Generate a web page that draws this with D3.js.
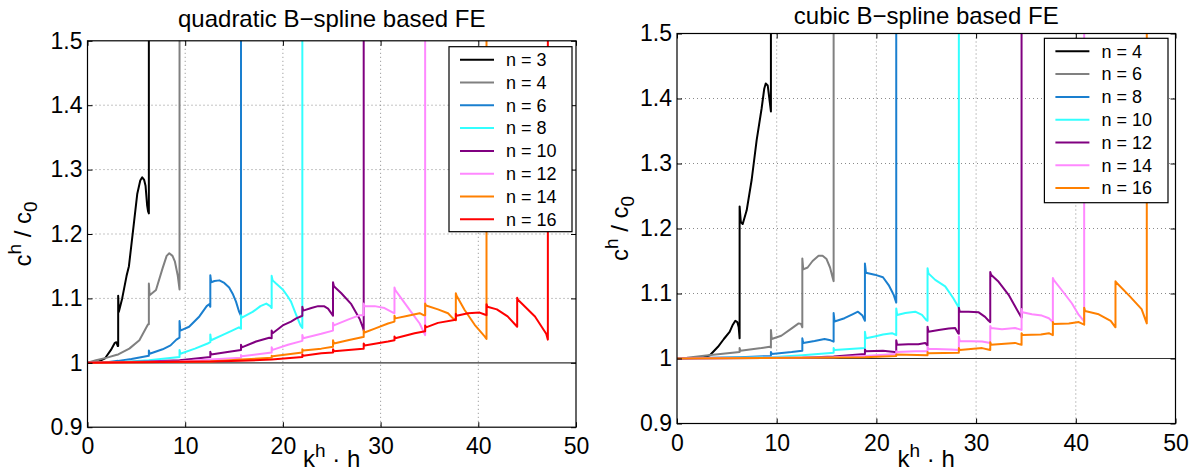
<!DOCTYPE html>
<html lang="en">
<head>
<meta charset="utf-8">
<script src="https://d3js.org/d3.v7.min.js"></script>
<style>
  body { margin: 0; background: #fff; }
  svg { display: block; font-family: "Liberation Sans", Arial, sans-serif; }
</style>
</head>
<body>
<script>
// ---- data (x = k^h*h, y = c^h/c0) ----
var xTicks = [0, 10, 20, 30, 40, 50];
var yTicks = [0.9, 1, 1.1, 1.2, 1.3, 1.4, 1.5];

var quadNames = ["n = 3", "n = 4", "n = 6", "n = 8", "n = 10", "n = 12", "n = 14", "n = 16"];
var cubicNames = ["n = 4", "n = 6", "n = 8", "n = 10", "n = 12", "n = 14", "n = 16"];

var q3 = [[0,1],[1,1.001],[1.8,1.007],[2.4,1.02],[2.8,1.031],[2.95,1.032],[3.1,1.026],[3.14,1.026],[3.14,1.104],[3.2,1.079],[3.55,1.1],[4.0,1.135],[4.24,1.15],[4.75,1.217],[5.09,1.262],[5.4,1.283],[5.6,1.288],[5.8,1.284],[5.94,1.275],[6.1,1.245],[6.2,1.235],[6.28,1.232],[6.28,1.6]];
var q4 = [[0,1],[0.87,1.004],[2,1.008],[2.92,1.012],[3.14,1.013],[4.28,1.022],[5.31,1.035],[5.99,1.054],[6.2,1.06],[6.28,1.06],[6.28,1.123],[6.36,1.105],[7.01,1.113],[7.69,1.147],[8.1,1.166],[8.37,1.17],[8.7,1.166],[8.95,1.157],[9.23,1.136],[9.42,1.114],[9.42,1.6]];
var q6 = [[0,1],[2,1.001],[3.14,1.003],[4.5,1.006],[6.28,1.011],[6.28,1.019],[6.36,1.014],[7.69,1.021],[8.5,1.027],[9.1,1.036],[9.42,1.039],[9.42,1.065],[9.5,1.05],[10.4,1.056],[11.45,1.072],[12.2,1.088],[12.45,1.091],[12.57,1.087],[12.57,1.136],[12.66,1.125],[13.0,1.127],[13.5,1.128],[14.0,1.124],[14.5,1.117],[14.9,1.106],[15.2,1.095],[15.5,1.08],[15.71,1.073],[15.71,1.6]];
var q8 = [[0,1],[3.14,1.001],[6.28,1.004],[9.42,1.009],[9.42,1.02],[9.5,1.014],[11,1.022],[12.3,1.03],[12.57,1.032],[12.57,1.044],[12.65,1.035],[13.8,1.043],[14.8,1.05],[15.5,1.055],[15.71,1.053],[15.71,1.074],[15.8,1.07],[16.9,1.079],[17.7,1.088],[18.3,1.092],[18.7,1.088],[18.85,1.085],[18.85,1.135],[18.95,1.128],[19.3,1.123],[19.98,1.114],[20.5,1.103],[20.83,1.095],[21.37,1.074],[21.8,1.058],[21.99,1.054],[21.99,1.6]];
var q10 = [[0,1],[6.28,1.002],[9.42,1.004],[12.57,1.009],[12.57,1.017],[12.65,1.013],[14.5,1.017],[15.71,1.02],[15.71,1.028],[15.8,1.024],[17.25,1.033],[18.6,1.039],[18.85,1.038],[18.85,1.05],[18.95,1.046],[19.98,1.058],[20.83,1.064],[21.37,1.069],[21.99,1.073],[21.99,1.087],[22.08,1.081],[22.91,1.085],[23.6,1.088],[24.2,1.088],[24.62,1.084],[25.0,1.076],[25.13,1.073],[25.13,1.125],[25.22,1.119],[25.98,1.108],[27.0,1.091],[27.86,1.068],[28.2,1.054],[28.27,1.05],[28.27,1.6]];
var q12 = [[0,1],[9.42,1.002],[12.57,1.005],[15.71,1.008],[15.71,1.012],[15.8,1.01],[18.85,1.016],[18.85,1.024],[18.95,1.02],[20.52,1.028],[21.99,1.034],[21.99,1.043],[22.08,1.038],[23.93,1.045],[25.13,1.05],[25.13,1.062],[25.22,1.058],[26.66,1.067],[27.86,1.074],[28.27,1.074],[28.27,1.092],[28.36,1.088],[29.4,1.088],[30.4,1.085],[31.27,1.078],[31.42,1.077],[31.42,1.117],[31.5,1.113],[32.12,1.1],[33.12,1.079],[34.0,1.061],[34.34,1.05],[34.56,1.043],[34.56,1.6]];
var q14 = [[0,1],[12.57,1.002],[15.71,1.005],[18.85,1.008],[18.85,1.011],[18.95,1.01],[21.99,1.016],[21.99,1.021],[22.08,1.019],[23.93,1.022],[25.13,1.025],[25.13,1.035],[25.22,1.03],[26.66,1.035],[28.2,1.04],[28.27,1.04],[28.27,1.05],[28.36,1.047],[29.4,1.053],[30.76,1.061],[31.42,1.064],[31.42,1.073],[31.5,1.069],[32.8,1.073],[34.0,1.077],[34.4,1.074],[34.56,1.074],[34.56,1.092],[34.65,1.089],[35.87,1.083],[36.9,1.077],[37.4,1.069],[37.7,1.066],[37.7,1.108],[37.78,1.104],[38.6,1.082],[39.63,1.059],[40.65,1.041],[40.84,1.037],[40.84,1.6]];
var q16 = [[0,1],[12.57,1.002],[15.71,1.003],[18.85,1.005],[21.99,1.009],[21.99,1.013],[22.08,1.011],[23.93,1.015],[25.13,1.016],[25.13,1.021],[25.22,1.018],[28.2,1.022],[28.27,1.022],[28.27,1.03],[28.36,1.027],[30.76,1.033],[31.42,1.035],[31.42,1.041],[31.5,1.038],[33.48,1.046],[34.56,1.049],[34.56,1.058],[34.65,1.055],[35.87,1.062],[37.7,1.067],[37.7,1.076],[37.78,1.073],[38.95,1.077],[40.14,1.078],[40.65,1.075],[40.84,1.074],[40.84,1.091],[40.93,1.087],[41.9,1.083],[43.0,1.072],[43.98,1.056],[43.98,1.101],[44.06,1.098],[45.8,1.072],[46.95,1.045],[47.12,1.036],[47.12,1.6]];

var c4 = [[0,1],[2.5,1.001],[2.94,1.003],[3.14,1.004],[3.3,1.005],[4.11,1.018],[4.7,1.03],[5.28,1.041],[5.6,1.052],[5.85,1.058],[6.05,1.056],[6.19,1.048],[6.28,1.031],[6.28,1.234],[6.4,1.21],[6.59,1.207],[6.99,1.228],[7.49,1.275],[7.99,1.336],[8.49,1.385],[8.75,1.415],[8.9,1.423],[9.1,1.42],[9.3,1.395],[9.42,1.38],[9.42,1.6]];
var c6 = [[0,1],[1,1.001],[3.14,1.005],[6.28,1.01],[6.28,1.016],[6.36,1.012],[8.46,1.016],[9.29,1.018],[9.42,1.017],[9.42,1.044],[9.5,1.03],[10.46,1.035],[11.47,1.046],[12.2,1.054],[12.45,1.053],[12.57,1.048],[12.57,1.154],[12.66,1.137],[13.1,1.14],[13.6,1.15],[14.2,1.158],[14.6,1.158],[15.0,1.153],[15.35,1.14],[15.6,1.125],[15.71,1.119],[15.71,1.6]];
var c8 = [[0,1],[3.14,1.001],[6.28,1.002],[9.42,1.004],[9.42,1.01],[9.5,1.007],[11.5,1.01],[12.57,1.012],[12.57,1.031],[12.66,1.024],[13.8,1.027],[14.8,1.03],[15.4,1.028],[15.71,1.026],[15.71,1.07],[15.8,1.057],[16.8,1.062],[17.6,1.068],[18.15,1.072],[18.6,1.066],[18.85,1.058],[18.85,1.146],[18.95,1.132],[19.83,1.129],[20.66,1.125],[21.23,1.113],[21.73,1.098],[21.99,1.086],[21.99,1.6]];
var c10 = [[0,1],[6.28,1.001],[9.42,1.002],[12.57,1.005],[15.71,1.009],[15.71,1.016],[15.8,1.013],[18.85,1.016],[18.85,1.041],[18.95,1.031],[19.83,1.034],[20.66,1.037],[21.57,1.039],[21.99,1.036],[21.99,1.077],[22.08,1.067],[22.9,1.07],[23.9,1.072],[24.57,1.067],[25.01,1.059],[25.13,1.058],[25.13,1.139],[25.22,1.131],[25.9,1.121],[26.9,1.111],[27.7,1.093],[28.2,1.08],[28.27,1.077],[28.27,1.6]];
var c12 = [[0,1],[12.57,1.001],[15.71,1.003],[18.85,1.007],[18.85,1.014],[18.95,1.011],[20.66,1.012],[21.83,1.01],[21.99,1.009],[21.99,1.028],[22.08,1.021],[23.2,1.022],[24.2,1.022],[24.9,1.024],[25.13,1.02],[25.13,1.049],[25.22,1.041],[26.25,1.044],[27.25,1.046],[27.9,1.047],[28.2,1.039],[28.27,1.038],[28.27,1.078],[28.36,1.072],[29.25,1.072],[30.26,1.071],[30.9,1.064],[31.26,1.058],[31.42,1.056],[31.42,1.133],[31.5,1.129],[32.26,1.118],[33.26,1.098],[34.1,1.075],[34.43,1.066],[34.56,1.063],[34.56,1.6]];
var c14 = [[0,1],[15.71,1.002],[18.85,1.004],[21.99,1.007],[21.99,1.011],[22.08,1.01],[23.9,1.011],[25.13,1.011],[25.13,1.018],[25.22,1.015],[27.5,1.014],[28.27,1.013],[28.27,1.034],[28.36,1.027],[30.6,1.026],[31.42,1.024],[31.42,1.05],[31.5,1.047],[32.6,1.045],[33.9,1.047],[34.56,1.044],[34.56,1.076],[34.65,1.071],[35.6,1.068],[36.6,1.066],[37.3,1.062],[37.7,1.056],[37.7,1.124],[37.78,1.121],[38.6,1.105],[39.6,1.085],[40.3,1.067],[40.84,1.057],[40.84,1.6]];
var c16 = [[0,1],[18.85,1.002],[21.99,1.004],[21.99,1.006],[25.13,1.005],[25.13,1.01],[25.22,1.008],[28.27,1.009],[28.27,1.016],[28.36,1.013],[30.6,1.016],[31.42,1.013],[31.42,1.025],[31.5,1.021],[33.9,1.024],[34.56,1.021],[34.56,1.039],[34.65,1.036],[36.5,1.037],[37.3,1.039],[37.7,1.036],[37.7,1.056],[37.78,1.053],[39.3,1.054],[40.3,1.056],[40.84,1.052],[40.84,1.078],[40.93,1.073],[42.3,1.068],[43.5,1.058],[43.98,1.048],[43.98,1.119],[44.06,1.117],[45.4,1.096],[46.6,1.076],[47.12,1.054],[47.12,1.6]];

var quadColors = ["#000000", "#808080", "#1a7fcf", "#33ffff", "#800080", "#ff88ff", "#ff8000", "#ff0000"];
var cubicColors = ["#000000", "#808080", "#1a7fcf", "#33ffff", "#800080", "#ff88ff", "#ff8000"];

var svg = d3.select("body").append("svg")
  .attr("width", 1201)
  .attr("height", 472);

svg.append("rect").attr("width", 1201).attr("height", 472).attr("fill", "white");

var panels = [
  { id: "q", left: 87.5, right: 576, top: 40.8, bottom: 427.2, title: "quadratic B\u2212spline based FE", titleY: 27,
    series: [q3, q4, q6, q8, q10, q12, q14, q16], names: quadNames, colors: quadColors,
    legend: { x: 449, y: 46.7, w: 123, h: 185 }, ylabX: 31 },
  { id: "c", left: 677, right: 1175.5, top: 33.5, bottom: 423.5, title: "cubic B\u2212spline based FE", titleY: 24,
    series: [c4, c6, c8, c10, c12, c14, c16], names: cubicNames, colors: cubicColors,
    legend: { x: 1044.4, y: 38.3, w: 123.6, h: 164.4 }, ylabX: 628 }
];

panels.forEach(function (p) {
  var x = d3.scaleLinear().domain([0, 50]).range([p.left, p.right]);
  var y = d3.scaleLinear().domain([0.9, 1.5]).range([p.bottom, p.top]);
  var w = p.right - p.left, h = p.bottom - p.top;

  svg.append("clipPath").attr("id", "clip-" + p.id)
    .append("rect").attr("x", p.left).attr("y", p.top).attr("width", w).attr("height", h);

  // dotted grid
  var grid = svg.append("g").attr("stroke", "#8a8a8a").attr("stroke-width", 1).attr("stroke-dasharray", "1,3");
  grid.selectAll(".gx").data(xTicks.slice(1, -1)).enter().append("line")
    .attr("x1", function (d) { return x(d); }).attr("x2", function (d) { return x(d); })
    .attr("y1", p.top).attr("y2", p.bottom);
  grid.selectAll(".gy").data(yTicks.slice(2, -1)).enter().append("line")
    .attr("y1", function (d) { return y(d); }).attr("y2", function (d) { return y(d); })
    .attr("x1", p.left).attr("x2", p.right);

  // reference line c^h/c0 = 1
  svg.append("line")
    .attr("x1", x(0)).attr("x2", x(50)).attr("y1", y(1)).attr("y2", y(1))
    .attr("stroke", "#333").attr("stroke-width", 1.2);

  // curves
  var line = d3.line().x(function (d) { return x(d[0]); }).y(function (d) { return y(d[1]); });
  var curves = svg.append("g").attr("clip-path", "url(#clip-" + p.id + ")");
  curves.selectAll("path").data(p.series).enter().append("path")
    .attr("d", line)
    .attr("fill", "none")
    .attr("stroke", function (d, i) { return p.colors[i]; })
    .attr("stroke-width", 2)
    .attr("stroke-linejoin", "round");

  // axes, ticks inside like matlab
  var fmt = function (d) { return String(+d.toFixed(1)); };
  var gx = svg.append("g").attr("transform", "translate(0," + p.bottom + ")")
    .call(d3.axisBottom(x).tickValues(xTicks).tickFormat(fmt).tickSizeInner(-5).tickSizeOuter(0).tickPadding(10));
  var gxt = svg.append("g").attr("transform", "translate(0," + p.top + ")")
    .call(d3.axisTop(x).tickValues(xTicks).tickFormat("").tickSizeInner(-5).tickSizeOuter(0));
  var gy = svg.append("g").attr("transform", "translate(" + p.left + ",0)")
    .call(d3.axisLeft(y).tickValues(yTicks).tickFormat(fmt).tickSizeInner(-5).tickSizeOuter(0).tickPadding(5));
  var gyr = svg.append("g").attr("transform", "translate(" + p.right + ",0)")
    .call(d3.axisRight(y).tickValues(yTicks).tickFormat("").tickSizeInner(-5).tickSizeOuter(0));
  [gx, gxt, gy, gyr].forEach(function (g) {
    g.select(".domain").remove();
    g.selectAll("line").attr("stroke", "#000");
    g.selectAll("text").attr("fill", "#000").style("font-size", "23px").attr("font-family", "Liberation Sans, Arial, sans-serif");
  });
  gx.selectAll("text").attr("dy", "0.75em");

  svg.append("rect").attr("x", p.left).attr("y", p.top).attr("width", w).attr("height", h)
    .attr("fill", "none").attr("stroke", "#000").attr("stroke-width", 1.2);

  // title
  svg.append("text").attr("x", (p.left + p.right) / 2).attr("y", p.titleY)
    .attr("text-anchor", "middle").style("font-size", "24px").text(p.title);

  // x label  k^h . h
  var xl = svg.append("text").attr("x", (p.left + p.right) / 2).attr("y", 467)
    .attr("text-anchor", "middle").style("font-size", "24px");
  xl.append("tspan").text("k");
  xl.append("tspan").attr("dy", -10).style("font-size", "19px").text("h");
  xl.append("tspan").attr("dy", 10).text(" \u00b7 h");

  // y label  c^h / c_0
  var yl = svg.append("text")
    .attr("transform", "translate(" + p.ylabX + "," + (p.top + p.bottom) / 2 + ") rotate(-90)")
    .attr("text-anchor", "middle").style("font-size", "24px");
  yl.append("tspan").text("c");
  yl.append("tspan").attr("dy", -10).style("font-size", "19px").text("h");
  yl.append("tspan").attr("dy", 10).text(" / c");
  yl.append("tspan").attr("dy", 6).style("font-size", "19px").text("0");

  // legend
  var L = p.legend;
  var lg = svg.append("g");
  lg.append("rect").attr("x", L.x).attr("y", L.y).attr("width", L.w).attr("height", L.h)
    .attr("fill", "white").attr("stroke", "#000").attr("stroke-width", 1.2);
  var rowH = 22.8;
  var rows = lg.selectAll(".row").data(p.names).enter().append("g")
    .attr("transform", function (d, i) { return "translate(" + L.x + "," + (L.y + 13 + i * rowH) + ")"; });
  rows.append("line").attr("x1", 11).attr("x2", 45).attr("y1", 0).attr("y2", 0)
    .attr("stroke", function (d, i) { return p.colors[i]; }).attr("stroke-width", 2);
  rows.append("text").attr("x", 57).attr("y", 0).attr("dy", "0.35em")
    .style("font-size", "18px").text(function (d) { return d; });
});
</script>
</body>
</html>
